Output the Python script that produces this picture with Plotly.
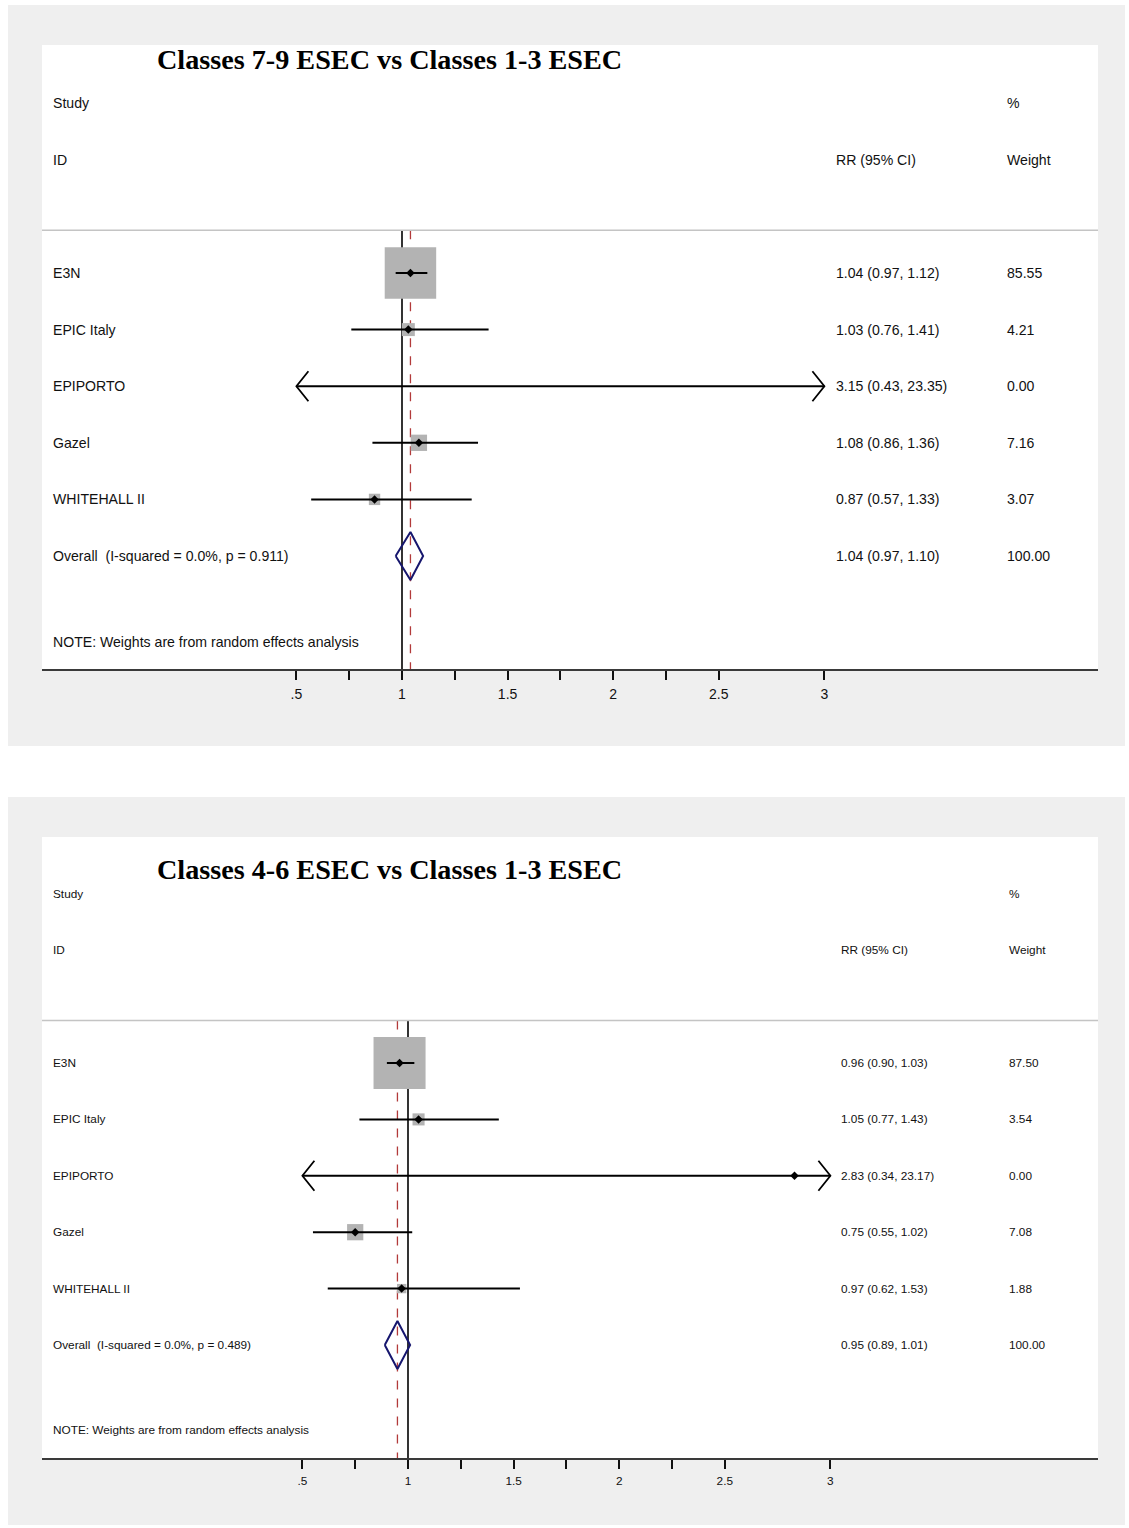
import math
import plotly.graph_objects as go

# ---------------- data ----------------
tick_vals = [0.5, 0.75, 1, 1.25, 1.5, 1.75, 2, 2.25, 2.5, 3]
tick_text = [".5", "", "1", "", "1.5", "", "2", "", "2.5", "3"]

p1_title = "Classes 7-9 ESEC vs Classes 1-3 ESEC"
p1_studies = ["E3N", "EPIC Italy", "EPIPORTO", "Gazel", "WHITEHALL II"]
p1_rr = [1.04, 1.03, 3.15, 1.08, 0.87]
p1_lo = [0.97, 0.76, 0.43, 0.86, 0.57]
p1_hi = [1.12, 1.41, 23.35, 1.36, 1.33]
p1_weight = [85.55, 4.21, 0.00, 7.16, 3.07]
p1_overall = [1.04, 0.97, 1.10]
p1_overall_weight = 100.00
p1_i2 = 0.0
p1_p = 0.911

p2_title = "Classes 4-6 ESEC vs Classes 1-3 ESEC"
p2_studies = ["E3N", "EPIC Italy", "EPIPORTO", "Gazel", "WHITEHALL II"]
p2_rr = [0.96, 1.05, 2.83, 0.75, 0.97]
p2_lo = [0.90, 0.77, 0.34, 0.55, 0.62]
p2_hi = [1.03, 1.43, 23.17, 1.02, 1.53]
p2_weight = [87.50, 3.54, 0.00, 7.08, 1.88]
p2_overall = [0.95, 0.89, 1.01]
p2_overall_weight = 100.00
p2_i2 = 0.0
p2_p = 0.489

# ---------------- layout constants ----------------
W, H = 1129, 1528
UNIT_PX = 211.2          # pixels per RR unit
CLIP_LO, CLIP_HI = 0.5, 3.0
FONT = "Arial, Liberation Sans, Helvetica, sans-serif"
SERIF = "Times New Roman, Liberation Serif, serif"
GRAY_BG = "#efefef"
BOX_COL = "#b3b3b3"
NAVY = "#16166e"
RED = "#b23a3a"


def fx(px):
    return px / W


def fy(py):
    return 1 - py / H


panels = [
    dict(title=p1_title, studies=p1_studies, rr=p1_rr, lo=p1_lo, hi=p1_hi, w=p1_weight,
         ov=p1_overall, ovw=p1_overall_weight, i2=p1_i2, p=p1_p, xa="x", ya="y",
         gray=(8, 5, 1125, 746), white=(42, 45, 1098, 669), x_one=402,
         row0=273, step=56.6, fs=14.1, tfs=14, col_rr=834, col_w=1005, title_y=60),
    dict(title=p2_title, studies=p2_studies, rr=p2_rr, lo=p2_lo, hi=p2_hi, w=p2_weight,
         ov=p2_overall, ovw=p2_overall_weight, i2=p2_i2, p=p2_p, xa="x2", ya="y2",
         gray=(8, 797, 1125, 1525), white=(42, 837, 1098, 1458), x_one=408,
         row0=1063, step=56.4, fs=11.8, tfs=11.8, col_rr=839, col_w=1007, title_y=870),
]

fig = go.Figure()
shapes = []
annotations = []
layout_axes = {}

for i, P in enumerate(panels):
    xa, ya = P["xa"], P["ya"]
    gx0, gy0, gx1, gy1 = P["gray"]
    wx0, wy0, wx1, wy1 = P["white"]
    step = P["step"]
    n = len(P["studies"])
    rows = list(range(n))
    ov_row = n

    # outer gray panel and white plotting region
    shapes.append(dict(type="rect", xref="paper", yref="paper", x0=fx(gx0), x1=fx(gx1),
                       y0=fy(gy1), y1=fy(gy0), fillcolor=GRAY_BG, line=dict(width=0), layer="below"))
    shapes.append(dict(type="rect", xref="paper", yref="paper", x0=fx(wx0), x1=fx(wx1),
                       y0=fy(wy1), y1=fy(wy0), fillcolor="#ffffff", line=dict(width=0), layer="below"))

    xr = [1 + (wx0 - P["x_one"]) / UNIT_PX, 1 + (wx1 - P["x_one"]) / UNIT_PX]
    yr = [(wy1 - P["row0"]) / step, (wy0 - P["row0"]) / step]

    sfx = "" if i == 0 else str(i + 1)
    layout_axes["xaxis" + sfx] = dict(
        domain=[fx(wx0), fx(wx1)], range=xr, anchor=ya, showgrid=False, zeroline=False,
        showline=True, linecolor="#3a3a3a", linewidth=2, ticks="outside", ticklen=9,
        tickwidth=1.5, tickcolor="#111", tickvals=tick_vals, ticktext=tick_text,
        ticklabelstandoff=2,
        tickfont=dict(family=FONT, size=P["tfs"], color="#111"), fixedrange=True)
    layout_axes["yaxis" + sfx] = dict(
        domain=[fy(wy1), fy(wy0)], range=yr, anchor=xa, visible=False, fixedrange=True)

    header_row = -0.755
    bottom_row = yr[0]

    # header separator line
    shapes.append(dict(type="line", xref=xa + " domain", yref=ya, x0=0, x1=1,
                       y0=header_row, y1=header_row, line=dict(color="#c4c4c4", width=1.5)))
    # null line
    shapes.append(dict(type="line", xref=xa, yref=ya, x0=1, x1=1, y0=header_row, y1=bottom_row,
                       line=dict(color="#000", width=1.6), layer="below"))
    # overall dashed line
    shapes.append(dict(type="line", xref=xa, yref=ya, x0=P["ov"][0], x1=P["ov"][0],
                       y0=header_row, y1=bottom_row,
                       line=dict(color=RED, width=1.3, dash="dash"), layer="below"))

    # weight boxes
    vis = [CLIP_LO <= r <= CLIP_HI for r in P["rr"]]
    box_sizes = [(5.35 * math.sqrt(w) + 2) if (w > 0 and v) else 0 for w, v in zip(P["w"], vis)]
    fig.add_trace(go.Scatter(x=P["rr"], y=rows, mode="markers", xaxis=xa, yaxis=ya,
                             marker=dict(symbol="square", size=box_sizes, color=BOX_COL,
                                         opacity=1, line=dict(width=0)),
                             hoverinfo="skip", showlegend=False))

    # CI lines (clipped) and arrows
    cx, cy = [], []
    ax, ay = [], []
    dx = 12 / UNIT_PX
    dy = 15 / step
    for r, lo, hi in zip(rows, P["lo"], P["hi"]):
        a = max(lo, CLIP_LO)
        b = min(hi, CLIP_HI)
        cx += [a, b, None]
        cy += [r, r, None]
        if lo < CLIP_LO:
            ax += [a + dx, a, a + dx, None]
            ay += [r - dy, r, r + dy, None]
        if hi > CLIP_HI:
            ax += [b - dx, b, b - dx, None]
            ay += [r - dy, r, r + dy, None]
    fig.add_trace(go.Scatter(x=cx, y=cy, mode="lines", xaxis=xa, yaxis=ya,
                             line=dict(color="#000", width=2), hoverinfo="skip", showlegend=False))
    fig.add_trace(go.Scatter(x=ax, y=ay, mode="lines", xaxis=xa, yaxis=ya,
                             line=dict(color="#000", width=1.8), hoverinfo="skip", showlegend=False))

    # point estimates
    px_ = [r for r, v in zip(P["rr"], vis) if v]
    py_ = [row for row, v in zip(rows, vis) if v]
    fig.add_trace(go.Scatter(x=px_, y=py_, mode="markers", xaxis=xa, yaxis=ya,
                             marker=dict(symbol="diamond", size=6.5, color="#000"),
                             hoverinfo="skip", showlegend=False))

    # overall diamond
    orr, olo, ohi = P["ov"]
    hh = 24 / step
    fig.add_trace(go.Scatter(x=[olo, orr, ohi, orr, olo], y=[ov_row, ov_row - hh, ov_row, ov_row + hh, ov_row],
                             mode="lines", xaxis=xa, yaxis=ya, line=dict(color=NAVY, width=2),
                             hoverinfo="skip", showlegend=False))

    # texts
    tf = dict(family=FONT, size=P["fs"], color="#111")

    def txt(x_px, row, s, font=tf, anchor="left"):
        annotations.append(dict(xref="paper", yref=ya, x=fx(x_px), y=row, text=s, showarrow=False,
                                xanchor=anchor, yanchor="middle", font=font))

    annotations.append(dict(xref="paper", yref="paper", x=fx(389), y=fy(P["title_y"]),
                            text="<b>" + P["title"] + "</b>",
                            showarrow=False, xanchor="center", yanchor="middle",
                            font=dict(family=SERIF, size=28.2, color="#000")))
    txt(51, -3, "Study")
    txt(51, -2, "ID")
    txt(P["col_rr"], -2, "RR (95% CI)")
    txt(P["col_w"], -3, "%")
    txt(P["col_w"], -2, "Weight")
    for r, name, rr, lo, hi, w in zip(rows, P["studies"], P["rr"], P["lo"], P["hi"], P["w"]):
        txt(51, r, name)
        txt(P["col_rr"], r, f"{rr:.2f} ({lo:.2f}, {hi:.2f})")
        txt(P["col_w"], r, f"{w:.2f}")
    txt(51, ov_row, f"Overall \u00a0(I-squared = {P['i2']:.1f}%, p = {P['p']:.3f})")
    txt(P["col_rr"], ov_row, f"{orr:.2f} ({olo:.2f}, {ohi:.2f})")
    txt(P["col_w"], ov_row, f"{P['ovw']:.2f}")
    txt(51, 6.515, "NOTE: Weights are from random effects analysis")

fig.update_layout(
    width=W, height=H, margin=dict(l=0, r=0, t=0, b=0),
    paper_bgcolor="#ffffff", plot_bgcolor="#ffffff",
    shapes=shapes, annotations=annotations, showlegend=False,
    **layout_axes,
)

fig.write_html("out.html", config={"displayModeBar": False},
               post_script="document.body.style.margin='0';")
